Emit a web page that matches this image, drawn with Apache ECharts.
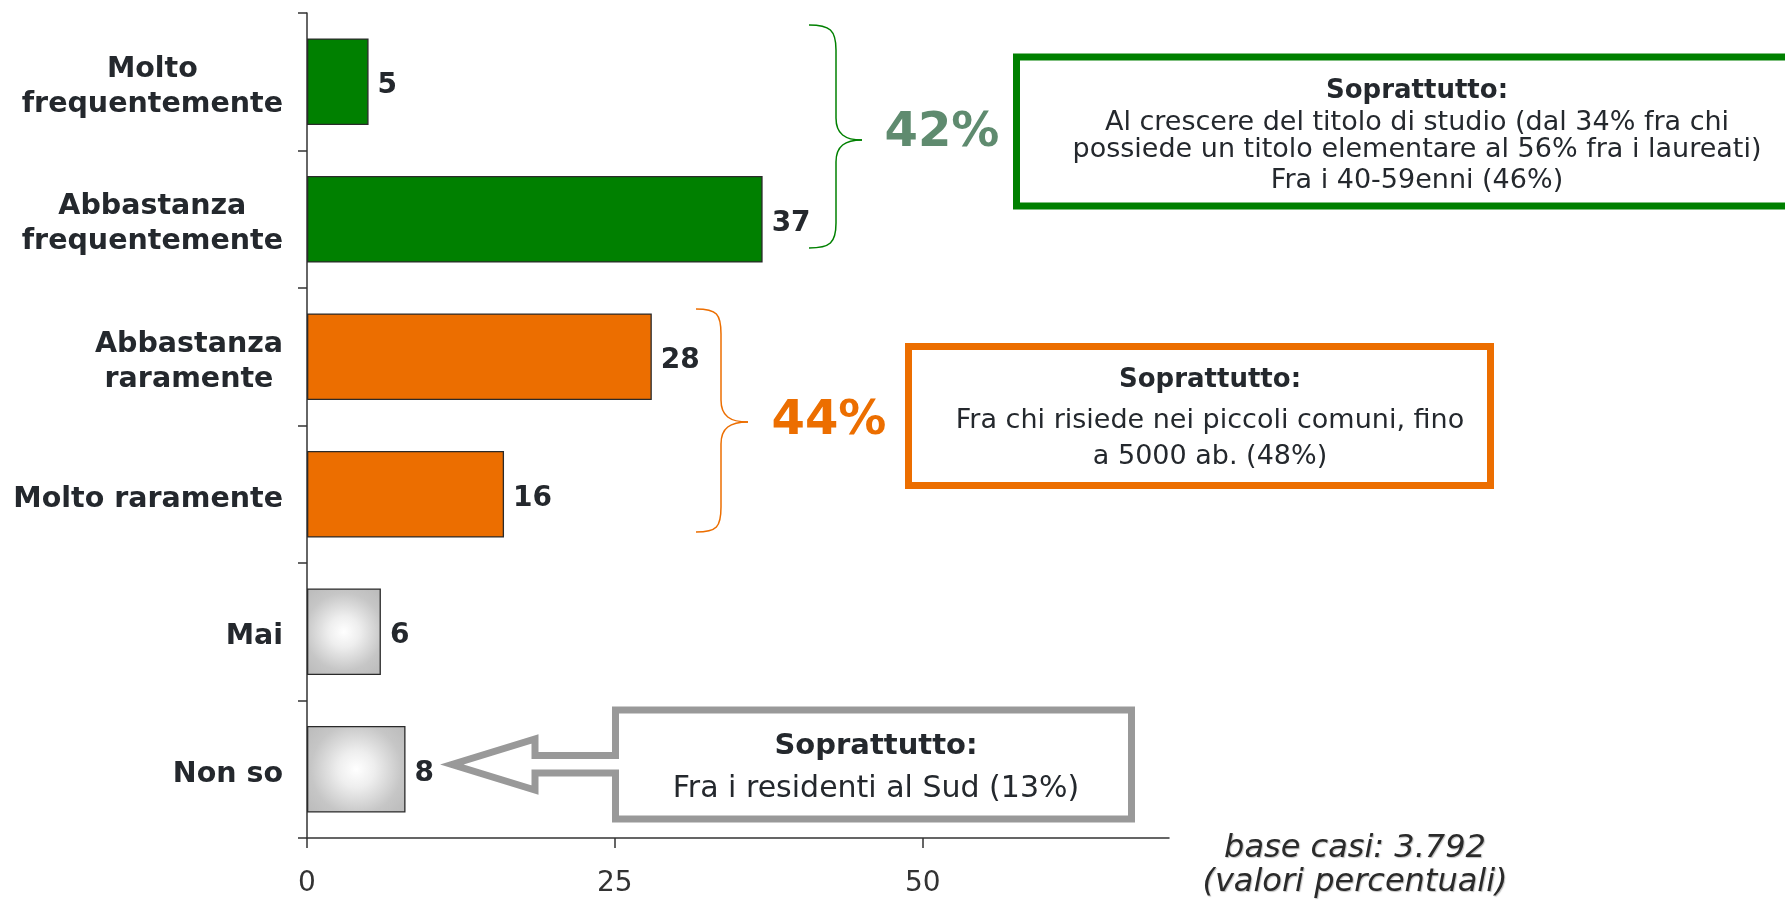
<!DOCTYPE html>
<html>
<head>
<meta charset="utf-8">
<script src="https://cdn.jsdelivr.net/npm/echarts@6/dist/echarts.min.js"></script>
<style>
html, body { margin: 0; padding: 0; background: #fff; }
#main { width: 1785px; height: 902px; }
</style>
</head>
<body>
<div id="main"></div>
<script>
// data
var categories = ['Molto\nfrequentemente', 'Abbastanza\nfrequentemente', 'Abbastanza\nraramente', 'Molto raramente', 'Mai', 'Non so'];
var values = [5, 37, 28, 16, 6, 8];
var groups = ['freq', 'freq', 'rare', 'rare', 'none', 'none'];
var xTicks = [0, 25, 50];
var freqTotal = '42%';
var rareTotal = '44%';
var freqNote = ['Soprattutto:', 'Al crescere del titolo di studio (dal 34% fra chi', 'possiede un titolo elementare al 56% fra i laureati)', 'Fra i 40-59enni (46%)'];
var rareNote = ['Soprattutto:', 'Fra chi risiede nei piccoli comuni, fino', 'a 5000 ab. (48%)'];
var dkNote = ['Soprattutto:', 'Fra i residenti al Sud (13%)'];
var baseNote = ['base casi: 3.792', '(valori percentuali)'];

var FONT = 'DejaVu Sans';
var DARK = '#24282d';
var GREEN = '#008000';
var ORANGE = '#ec6e00';
var GREY = '#999999';

var greyFill = {
    type: 'radial', x: 0.5, y: 0.5, r: 0.7,
    colorStops: [
        {offset: 0, color: '#ffffff'},
        {offset: 0.3, color: '#eeeeee'},
        {offset: 0.75, color: '#c6c6c6'},
        {offset: 1, color: '#bdbdbd'}
    ]
};
var fills = {freq: GREEN, rare: ORANGE, none: greyFill};

var myChart = echarts.init(document.getElementById('main'));

function txt(s, x, y, size, weight, color, extra) {
    var st = {
        text: s, x: x, y: y,
        fontSize: size, fontWeight: weight, fontFamily: FONT,
        fill: color,
        align: 'center', textAlign: 'center',
        verticalAlign: 'middle', textVerticalAlign: 'middle'
    };
    if (extra) { for (var k in extra) st[k] = extra[k]; }
    return {type: 'text', z: 20, style: st};
}

// curly brace opening to the left, tip pointing right
function brace(xEnd, xLine, xTip, yTop, yTip, yBot, color) {
    var st = {fill: 'none', stroke: color, lineWidth: 1.5};
    var r = 25;
    function bz(x1, y1, c1x, c1y, c2x, c2y, x2, y2) {
        return {type: 'bezierCurve', z: 10, shape: {x1: x1, y1: y1, cpx1: c1x, cpy1: c1y, cpx2: c2x, cpy2: c2y, x2: x2, y2: y2}, style: st};
    }
    function ln(x1, y1, x2, y2) {
        return {type: 'line', z: 10, shape: {x1: x1, y1: y1, x2: x2, y2: y2}, style: st};
    }
    return [
        bz(xEnd, yTop, xEnd + 21, yTop, xLine, yTop + 5, xLine, yTop + r),
        ln(xLine, yTop + r, xLine, yTip - 22),
        bz(xLine, yTip - 22, xLine, yTip - 6, xLine + 9, yTip, xTip, yTip),
        bz(xTip, yTip, xLine + 9, yTip, xLine, yTip + 6, xLine, yTip + 22),
        ln(xLine, yTip + 22, xLine, yBot - r),
        bz(xLine, yBot - r, xLine, yBot - 5, xEnd + 21, yBot, xEnd, yBot)
    ];
}

var shadow = {fontStyle: 'italic', textShadowColor: 'rgba(0,0,0,0.25)', textShadowOffsetX: 1, textShadowOffsetY: 1, textShadowBlur: 1};

var graphics = [].concat(
    brace(809, 836, 862, 25, 140, 248, GREEN),
    brace(696, 721, 748, 309, 422, 532, ORANGE),
    [
    txt(freqTotal, 942, 134, 48, 'bold', '#5f8b6f'),
    txt(rareTotal, 829, 422, 48, 'bold', ORANGE),
    // boxes
    {type: 'rect', z: 10, shape: {x: 1016.5, y: 57, width: 820, height: 149}, style: {fill: '#fff', stroke: GREEN, lineWidth: 7}},
    {type: 'rect', z: 10, shape: {x: 908.5, y: 346.5, width: 582, height: 139}, style: {fill: '#fff', stroke: ORANGE, lineWidth: 7}},
    {type: 'polygon', z: 10, shape: {points: [
        [615.5, 710], [1131.5, 710], [1131.5, 819], [615.5, 819], [615.5, 773],
        [535, 773], [535, 790], [452, 764.5], [535, 739], [535, 755.5], [615.5, 755.5]]},
        style: {fill: '#fff', stroke: GREY, lineWidth: 7, lineJoin: 'miter'}},
    txt(freqNote[0], 1417, 91, 26, 'bold', DARK),
    txt(freqNote[1], 1417, 123, 27, 'normal', DARK),
    txt(freqNote[2], 1417, 150, 27, 'normal', DARK),
    txt(freqNote[3], 1417, 181, 27, 'normal', DARK),
    txt(rareNote[0], 1210, 380, 26, 'bold', DARK),
    txt(rareNote[1], 1210, 421, 27, 'normal', DARK),
    txt(rareNote[2], 1210, 457, 27, 'normal', DARK),
    txt(dkNote[0], 876, 746, 29, 'bold', DARK),
    txt(dkNote[1], 876, 789, 30, 'normal', DARK),
    txt(baseNote[0], 1355, 849, 32, 'normal', '#2a2a2a', shadow),
    txt(baseNote[1], 1355, 883, 32, 'normal', '#2a2a2a', shadow)
    ]
);

var option = {
    backgroundColor: '#fff',
    animation: false,
    grid: {left: 307, right: 616, top: 13, bottom: 64, containLabel: false},
    xAxis: {
        type: 'value',
        min: 0,
        max: 70,
        splitLine: {show: false},
        axisLine: {show: true, lineStyle: {color: '#333', width: 1.5}},
        axisTick: {show: true, length: 10, customValues: xTicks, lineStyle: {color: '#333', width: 1.5}},
        axisLabel: {customValues: xTicks, margin: 32, fontSize: 28, fontFamily: FONT, color: '#333'}
    },
    yAxis: {
        type: 'category',
        inverse: true,
        data: categories,
        axisLine: {show: true, lineStyle: {color: '#333', width: 1.5}},
        axisTick: {show: true, length: 9, lineStyle: {color: '#333', width: 1.5}},
        axisLabel: {
            margin: 24,
            padding: [10, 0, 0, 0],
            formatter: function (v) {
                return v.split('\n').map(function (s) { return '{c|' + s + '}'; }).join('\n');
            },
            rich: {
                c: {align: 'center', fontSize: 28.5, fontWeight: 'bold', fontFamily: FONT, color: DARK, lineHeight: 35}
            }
        }
    },
    series: [{
        type: 'bar',
        barCategoryGap: '37%',
        data: values.map(function (v, i) {
            return {value: v, itemStyle: {color: fills[groups[i]]}};
        }),
        itemStyle: {borderColor: '#2a2a2a', borderWidth: 1.3},
        label: {
            show: true,
            position: 'right',
            distance: 9,
            offset: [0, 4],
            fontSize: 28,
            fontWeight: 'bold',
            fontFamily: FONT,
            color: DARK
        }
    }],
    graphic: graphics
};
myChart.setOption(option);
</script>
</body>
</html>
